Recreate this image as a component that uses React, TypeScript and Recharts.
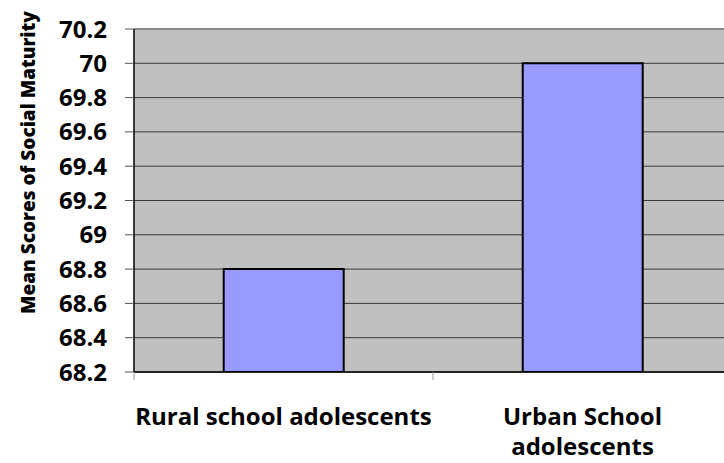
import { BarChart, Bar, XAxis, YAxis, CartesianGrid, ReferenceLine } from "recharts"

const CATEGORIES = ["Rural school adolescents", "Urban School adolescents"]
const MEAN_SCORES = [68.8, 70.0]
const Y_TICKS = [68.2, 68.4, 68.6, 68.8, 69, 69.2, 69.4, 69.6, 69.8, 70, 70.2]
// how each category label is broken into lines
const LABEL_LINES = [["Rural school adolescents"], ["Urban School", "adolescents"]]

const data = CATEGORIES.map((name, i) => ({ name, score: MEAN_SCORES[i] }))

const FONT = "'Open Sans', Lato, sans-serif"

function CategoryTick(props: any) {
  const { x, y, payload, index } = props
  const lines = LABEL_LINES[index] ?? [payload.value]
  const half = payload.offset ?? 0
  return (
    <g>
      <line x1={x - half} x2={x - half} y1={y - 8} y2={y} stroke="#999" strokeWidth={1} />
      {lines.map((l: string, i: number) => (
        <text
          key={i}
          x={x}
          y={y + 45 + i * 30}
          textAnchor="middle"
          fontFamily={FONT}
          fontWeight="bold"
          fontSize={24}
          fill="#000"
        >
          {l}
        </text>
      ))}
    </g>
  )
}

export default function App() {
  return (
    <div
      style={{
        position: "absolute",
        left: 0,
        top: 0,
        width: 724,
        height: 463,
        overflow: "hidden",
        background: "#fff",
      }}
    >
      <BarChart
        width={760}
        height={463}
        data={data}
        margin={{ top: 29, right: 28, bottom: 0, left: 0 }}
        barCategoryGap="30%"
      >
        <CartesianGrid fill="#C0C0C0" vertical={false} stroke="#3a3a3a" strokeWidth={1} />
        <XAxis
          dataKey="name"
          tick={<CategoryTick />}
          tickLine={false}
          axisLine={{ stroke: "#000", strokeWidth: 1.5 }}
          interval={0}
          height={91}
        />
        <YAxis
          domain={[68.2, 70.2]}
          ticks={Y_TICKS}
          interval={0}
          allowDataOverflow
          width={134}
          tickSize={9}
          tickMargin={18}
          tickLine={{ stroke: "#555" }}
          axisLine={{ stroke: "#000", strokeWidth: 1.5 }}
          tick={{ fontFamily: FONT, fontWeight: "bold", fontSize: 24, fill: "#000" }}
          label={{
            value: "Mean Scores of Social Maturity",
            angle: -90,
            position: "insideLeft",
            dx: 23,
            dy: -38,
            style: {
              textAnchor: "middle",
              fontFamily: FONT,
              fontWeight: 800,
              fontSize: 19,
              fill: "#000",
            },
          }}
        />
        <ReferenceLine y={70.2} stroke="#888" strokeWidth={2} />
        <Bar
          dataKey="score"
          fill="#9999FF"
          stroke="#000"
          strokeWidth={2}
          isAnimationActive={false}
        />
      </BarChart>
    </div>
  )
}
